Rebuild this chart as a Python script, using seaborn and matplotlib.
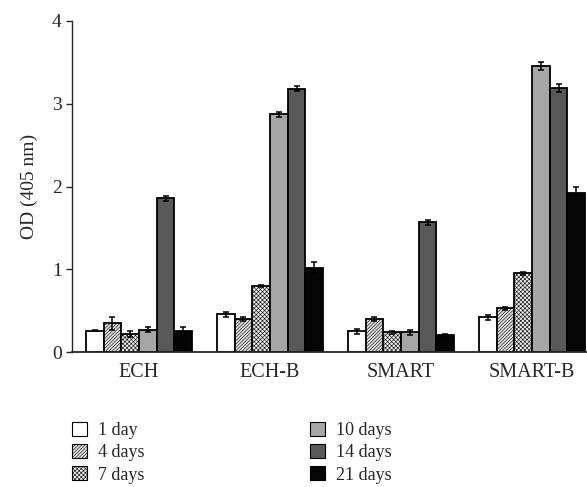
import numpy as np
import pandas as pd
import matplotlib
matplotlib.use("Agg")
import matplotlib.pyplot as plt
import seaborn as sns

groups = ['ECH', 'ECH-B', 'SMART', 'SMART-B']
days = ['1 day', '4 days', '7 days', '10 days', '14 days', '21 days']

# OD means per day, one list per group
od_ech = [0.26, 0.35, 0.22, 0.27, 1.86, 0.25]
od_ech_b = [0.46, 0.40, 0.80, 2.87, 3.18, 1.02]
od_smart = [0.25, 0.40, 0.24, 0.24, 1.57, 0.21]
od_smart_b = [0.42, 0.53, 0.95, 3.46, 3.19, 1.92]

# error bar half-widths
err_ech = [0.01, 0.08, 0.04, 0.03, 0.03, 0.05]
err_ech_b = [0.03, 0.02, 0.01, 0.03, 0.03, 0.07]
err_smart = [0.03, 0.02, 0.02, 0.03, 0.03, 0.01]
err_smart_b = [0.03, 0.02, 0.02, 0.05, 0.05, 0.07]

means = [od_ech, od_ech_b, od_smart, od_smart_b]
errs = [err_ech, err_ech_b, err_smart, err_smart_b]

rows = []
for g, m, e in zip(groups, means, errs):
    for d, v, s in zip(days, m, e):
        rows.append({'group': g, 'day': d, 'od': v, 'err': s})
df = pd.DataFrame(rows)

sns.set_style('ticks')
plt.rcParams['font.family'] = ['Liberation Serif', 'DejaVu Serif']
plt.rcParams['hatch.linewidth'] = 0.4
plt.rcParams['hatch.color'] = '#6e6e6e'

colors = ['#ffffff', '#e0e0e0', '#ececec', '#a6a6a6', '#595959', '#050505']
hatches = ['', '//////////', 'xxxxxxxx', '', '', '']

fig = plt.figure(figsize=(5.87, 4.87), dpi=100)
ax = fig.add_axes([0.123, 0.277, 0.877, 0.68])

sns.barplot(data=df, x='group', y='od', hue='day', order=groups, hue_order=days,
            palette=colors, errorbar=None, width=0.81, edgecolor='black',
            linewidth=1.3, ax=ax, legend=False, saturation=1)

# patches come out grouped by hue
for i, d in enumerate(days):
    for j, g in enumerate(groups):
        p = ax.patches[i * len(groups) + j]
        p.set_hatch(hatches[i])
        sub = df[(df.group == g) & (df.day == d)]
        xc = p.get_x() + p.get_width() / 2
        ax.errorbar(xc, sub.od.values[0], yerr=sub.err.values[0], fmt='none',
                    ecolor='black', elinewidth=1.1, capsize=2.5, capthick=1.1, zorder=5)

ax.set_ylim(0, 4)
ax.set_xlim(-0.51, 3.42)
ax.set_yticks([0, 1, 2, 3, 4])
ax.set_xlabel('')
ax.set_ylabel('OD (405 nm)', fontsize=14, labelpad=10)
ax.tick_params(axis='x', length=0, labelsize=14.5, pad=8)
ax.tick_params(axis='y', direction='out', length=4, labelsize=14, width=1)
sns.despine(ax=ax)
ax.spines['left'].set_linewidth(1)
ax.spines['bottom'].set_linewidth(1.3)

handles = [plt.Rectangle((0, 0), 1, 1, facecolor=c, edgecolor='black', hatch=h, linewidth=0.8)
           for c, h in zip(colors, hatches)]
fig.legend(handles, days, loc='upper left', bbox_to_anchor=(0.108, 0.152), ncol=2,
           frameon=False, fontsize=13, handlelength=0.8, handleheight=0.8,
           handletextpad=0.6, labelspacing=0.28, columnspacing=9.2, borderpad=0)

fig.savefig('out.png', dpi=100)
